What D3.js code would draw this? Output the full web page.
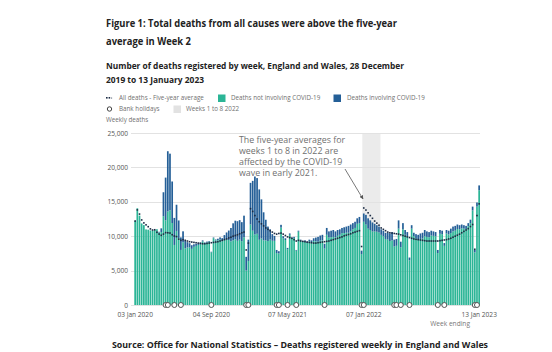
<!DOCTYPE html>
<meta charset="utf-8">
<html>
<head>
<style>
body { margin: 0; background: #fff; }
text { font-family: "Open Sans", sans-serif; }
.title { font-size: 10.8px; font-weight: bold; fill: #222; }
.subtitle { font-size: 9.4px; font-weight: bold; fill: #222; }
.legend text { font-size: 6.6px; fill: #707070; }
.axis text { font-size: 6.8px; fill: #555; }
.axis .domain { display: none; }
.grid line { stroke: #e2e2e2; shape-rendering: crispEdges; }
.note { font-size: 8.6px; fill: #707070; }
.source { font-size: 9.3px; font-weight: bold; fill: #222; }
</style>
<script src="https://cdn.jsdelivr.net/npm/d3@7"></script>
</head>
<body>
<svg width="552" height="352"></svg>
<script>
// weekly deaths, England and Wales, weeks ending 03 Jan 2020 .. 13 Jan 2023
var allDeaths = [
  12254, 14058, 12990, 11856, 11612, 10986, 10944, 10841, 10816, 10895,
  11019, 10645, 11141, 16387, 18516, 22351, 21997, 17953, 12657, 14573,
  12288, 9824, 10709, 9339, 9140, 8979, 8690, 8823, 8891, 8946,
  9081, 9392, 9087, 9218, 9300, 7739, 9811, 9523, 9634, 9828,
  9719, 10160, 10543, 10822, 11194, 11874, 12254, 12182, 12337, 12041,
  12985, 7000, 9500, 17751, 18042, 18676, 18448, 16800, 15354, 13472,
  12391, 11400, 11000, 10300, 10045, 8000, 7815, 11654, 10000, 9700,
  8300, 10400, 9800, 9900, 8000, 10800, 9500, 9300, 9400, 9200,
  9500, 9400, 9700, 9800, 9900, 10100, 10200, 8900, 11200, 10700,
  10800, 10900, 10700, 10900, 11000, 11200, 11300, 11400, 11500, 11700,
  11900, 12100, 12600, 12800, 7900, 13300, 13100, 12600, 12300, 12000,
  11800, 11600, 11400, 11000, 10800, 10500, 10500, 10400, 10600, 9500,
  9600, 12300, 9200, 11900, 10900, 10600, 6900, 11600, 10500, 10300,
  10200, 10400, 10500, 10900, 10700, 10600, 10800, 10700, 10600, 8000,
  10900, 10800, 9000, 10900, 10800, 11100, 11400, 11500, 11700, 11600,
  11700, 11600, 11500, 11900, 12400, 14300, 8000, 14900, 17381
];
var covidDeaths = [
  0, 0, 0, 0, 0, 0, 0, 0, 0, 0,
  5, 103, 539, 3475, 6213, 8758, 8237, 6035, 3930, 3810,
  2589, 1822, 1588, 1114, 783, 606, 532, 366, 295, 217,
  193, 152, 139, 138, 101, 78, 99, 139, 215, 321,
  438, 670, 978, 1379, 1937, 2466, 2697, 2853, 2835, 2756,
  3145, 2000, 3100, 6057, 7245, 8433, 8100, 7320, 5691, 4079,
  3000, 2100, 1500, 960, 720, 450, 330, 400, 300, 260,
  180, 200, 160, 150, 100, 140, 130, 120, 140, 180,
  240, 300, 400, 550, 700, 750, 800, 700, 1000, 900,
  950, 1000, 900, 850, 800, 750, 850, 900, 1000, 1000,
  900, 900, 800, 900, 500, 1200, 1400, 1500, 1400, 1300,
  1100, 950, 850, 800, 800, 900, 1000, 1100, 1200, 1000,
  1000, 1200, 800, 900, 700, 600, 400, 500, 500, 600,
  700, 800, 850, 900, 800, 750, 700, 650, 600, 450,
  550, 500, 400, 500, 550, 650, 700, 700, 650, 600,
  550, 500, 450, 450, 500, 550, 350, 600, 700
];
var fiveYearAvg = [
  12200, 13822, 13216, 12364, 11934, 11653, 11381, 11063, 10900, 10937,
  10573, 10305, 10130, 10305, 10520, 10497, 10458, 10216, 10032, 9941,
  9575, 9400, 9500, 9400, 9300, 9200, 9150, 9100, 9050, 9000,
  8950, 8900, 8900, 8950, 9000, 9050, 9100, 9150, 9200, 9300,
  9400, 9500, 9600, 9750, 9850, 10000, 10100, 10200, 10350, 10500,
  10600, 8000, 9000, 14000, 13600, 13000, 12500, 12100, 11800, 11500,
  11200, 11000, 10800, 10600, 10400, 10300, 10400, 10450, 10300, 10100,
  9900, 9800, 9700, 9500, 9300, 9400, 9300, 9250, 9200, 9150,
  9100, 9050, 9000, 9000, 9050, 9100, 9150, 9200, 9250, 9300,
  9400, 9500, 9600, 9700, 9800, 9900, 10050, 10150, 10250, 10350,
  10500, 10600, 10700, 10800, 8500, 14100, 13800, 13400, 13000, 12600,
  12200, 11900, 11600, 11200, 11000, 10800, 10600, 10500, 10450, 10400,
  10350, 10300, 10200, 10100, 10000, 9900, 9800, 9700, 9600, 9550,
  9500, 9450, 9400, 9350, 9300, 9300, 9300, 9300, 9300, 9300,
  9350, 9400, 9450, 9500, 9600, 9700, 9850, 10000, 10150, 10300,
  10500, 10700, 10900, 11100, 11400, 11700, 8100, 13000, 14700
];
var bankHolidayWeeks = [
  "10 Apr 2020", "17 Apr 2020", "08 May 2020", "29 May 2020", "04 Sep 2020",
  "25 Dec 2020", "01 Jan 2021", "02 Apr 2021", "09 Apr 2021", "07 May 2021",
  "04 Jun 2021", "03 Sep 2021", "31 Dec 2021", "07 Jan 2022", "15 Apr 2022",
  "22 Apr 2022", "06 May 2022", "03 Jun 2022", "02 Sep 2022", "23 Sep 2022",
  "30 Dec 2022", "06 Jan 2023"
];
var xTicks = ["03 Jan 2020", "04 Sep 2020", "07 May 2021", "07 Jan 2022", "13 Jan 2023"];
var yTicks = [0, 5000, 10000, 15000, 20000, 25000];
var shadedWeeks = ["07 Jan 2022", "25 Feb 2022"];

var fmtWeek = d3.timeFormat("%d %b %Y");
var weeks = d3.range(allDeaths.length).map(function(i) {
  return fmtWeek(d3.timeDay.offset(new Date(2020, 0, 3), 7 * i));
});
var data = weeks.map(function(w, i) {
  return {week: w, all: allDeaths[i], covid: covidDeaths[i], avg: fiveYearAvg[i]};
});

var svg = d3.select("svg");
svg.append("rect").attr("width", 552).attr("height", 352).attr("fill", "#fff");

var x = d3.scaleBand().domain(weeks).range([134.3, 480]).paddingInner(0.22).paddingOuter(0);
var y = d3.scaleLinear().domain([0, 25000]).range([305, 133]);

// font size that makes a text span the given width
function fit(sel, w) {
  var n = sel.node(), fs = parseFloat(getComputedStyle(n).fontSize);
  return fs * w / n.getComputedTextLength();
}
// squeeze a heading line to the width it has in the picture
function squeeze(sel, w) {
  sel.attr("textLength", w).attr("lengthAdjust", "spacingAndGlyphs");
}

// titles
var t = svg.append("g");
squeeze(t.append("text").attr("class", "title").attr("x", 106).attr("y", 27)
  .text("Figure 1: Total deaths from all causes were above the five-year"), 291);
squeeze(t.append("text").attr("class", "title").attr("x", 106).attr("y", 45)
  .text("average in Week 2"), 85);
squeeze(t.append("text").attr("class", "subtitle").attr("x", 106).attr("y", 69)
  .text("Number of deaths registered by week, England and Wales, 28 December"), 298);
squeeze(t.append("text").attr("class", "subtitle").attr("x", 106).attr("y", 83)
  .text("2019 to 13 January 2023"), 98);

// legend
var lg = svg.append("g").attr("class", "legend");
[106, 108.6].forEach(function(px) {
  lg.append("rect").attr("x", px).attr("y", 97).attr("width", 1.6).attr("height", 1.6).attr("fill", "#1b2b44");
});
lg.append("rect").attr("x", 111.2).attr("y", 97.6).attr("width", 0.9).attr("height", 0.9).attr("fill", "#1b2b44");
var l1 = lg.append("text").attr("x", 119).attr("y", 100.4).text("All deaths - Five-year average");
var fsL = fit(l1, 85);
lg.append("rect").attr("x", 218).attr("y", 94.5).attr("width", 7.5).attr("height", 7.5).attr("fill", "#2bb596");
lg.append("text").attr("x", 231).attr("y", 100.4).text("Deaths not involving COVID-19");
lg.append("rect").attr("x", 333.5).attr("y", 94.5).attr("width", 7.5).attr("height", 7.5).attr("fill", "#245f97");
lg.append("text").attr("x", 347).attr("y", 100.4).text("Deaths involving COVID-19");
lg.append("circle").attr("cx", 109.5).attr("cy", 109).attr("r", 2.2)
  .attr("fill", "#fff").attr("stroke", "#444").attr("stroke-width", 1);
lg.append("text").attr("x", 119).attr("y", 111.4).text("Bank holidays");
lg.append("rect").attr("x", 173.5).attr("y", 105.5).attr("width", 7.5).attr("height", 7.5).attr("fill", "#e2e2e2");
lg.append("text").attr("x", 186).attr("y", 111.4).text("Weeks 1 to 8 2022");
lg.append("text").attr("x", 106).attr("y", 122).text("Weekly deaths");
lg.selectAll("text").style("font-size", fsL + "px");

// shaded weeks 1 to 8 2022
svg.append("rect")
  .attr("x", x(shadedWeeks[0]) - 0.6)
  .attr("y", y(25000))
  .attr("width", x(shadedWeeks[1]) + x.bandwidth() + 0.6 - x(shadedWeeks[0]) + 0.6)
  .attr("height", y(0) - y(25000))
  .attr("fill", "#ebebeb");

// grid + y axis
svg.append("g").attr("class", "axis grid")
  .attr("transform", "translate(131,0)")
  .call(d3.axisLeft(y).tickValues(yTicks).tickFormat(d3.format(",")).tickSize(-(480 - 131)).tickPadding(3));

// bars
var bars = svg.append("g");
bars.selectAll(".nc").data(data).enter().append("rect")
  .attr("x", function(d) { return x(d.week); })
  .attr("width", x.bandwidth())
  .attr("y", function(d) { return y(d.all - d.covid); })
  .attr("height", function(d) { return y(0) - y(d.all - d.covid); })
  .attr("fill", "#2bb596");
bars.selectAll(".cv").data(data).enter().append("rect")
  .attr("x", function(d) { return x(d.week); })
  .attr("width", x.bandwidth())
  .attr("y", function(d) { return y(d.all); })
  .attr("height", function(d) { return y(d.all - d.covid) - y(d.all); })
  .attr("fill", "#245f97");

// five-year average markers
svg.append("g").selectAll("rect").data(data).enter().append("rect")
  .attr("x", function(d) { return x(d.week) + x.bandwidth() / 2 - 0.8; })
  .attr("y", function(d) { return y(d.avg) - 0.8; })
  .attr("width", 1.6).attr("height", 1.6)
  .attr("fill", "#1b2b44");

// x axis
var xg = svg.append("g").attr("class", "axis")
  .attr("transform", "translate(0,305)")
  .call(d3.axisBottom(x).tickValues(xTicks).tickSize(0).tickPadding(7));
var fsX = fit(xg.select(".tick text"), 35.6);
xg.selectAll("text").style("font-size", fsX + "px");
svg.select(".grid").selectAll("text").style("font-size", fsX + "px");

svg.append("text").attr("x", 470).attr("y", 325.5)
  .attr("text-anchor", "end").style("font-size", fsX + "px").style("fill", "#777").text("Week ending");

// bank holidays
svg.append("g").selectAll("circle").data(bankHolidayWeeks).enter().append("circle")
  .attr("cx", function(d) { return x(d) + x.bandwidth() / 2; })
  .attr("cy", 305)
  .attr("r", 2.5)
  .attr("fill", "#fff").attr("stroke", "#555").attr("stroke-width", 1);

// annotation
var note = ["The five-year averages for", "weeks 1 to 8 in 2022 are", "affected by the COVID-19", "wave in early 2021."];
var nt = svg.append("text").attr("class", "note");
nt.selectAll("tspan").data(note).enter().append("tspan")
  .attr("x", 239).attr("y", function(d, i) { return 142.5 + i * 11; })
  .text(function(d) { return d; });
var fsN = 8.6 * 106 / nt.select("tspan").node().getComputedTextLength();
nt.style("font-size", fsN + "px");

svg.append("defs").append("marker").attr("id", "arr")
  .attr("viewBox", "0 0 10 10").attr("refX", 9).attr("refY", 5)
  .attr("markerWidth", 5).attr("markerHeight", 5).attr("orient", "auto")
  .append("path").attr("d", "M0,0 L10,5 L0,10 Z").attr("fill", "#555");
svg.append("line").attr("x1", 345).attr("y1", 169).attr("x2", 363).attr("y2", 199)
  .attr("stroke", "#555").attr("stroke-width", 0.8).attr("marker-end", "url(#arr)");

squeeze(svg.append("text").attr("class", "source").attr("x", 112).attr("y", 348)
  .text("Source: Office for National Statistics \u2013 Deaths registered weekly in England and Wales"), 376);
</script>
</body>
</html>
